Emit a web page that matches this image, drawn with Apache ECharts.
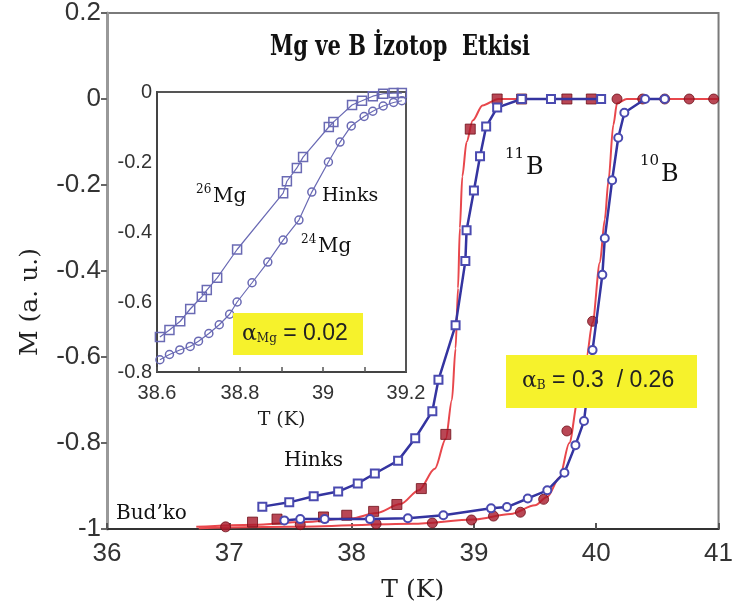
<!DOCTYPE html>
<html><head><meta charset="utf-8">
<script src="https://cdn.jsdelivr.net/npm/echarts@6/dist/echarts.min.js"></script>
<style>html,body{margin:0;padding:0;background:#fff}#c{width:736px;height:615px}</style>
</head><body><div id="c"></div>
<script>
// ---- tick values ----
const mainXTicks = [36, 37, 38, 39, 40, 41];
const mainYTicks = [-1, -0.8, -0.6, -0.4, -0.2, 0, 0.2];
const insetXTicks = [38.6, 38.8, 39, 39.2];
const insetYTicks = [-0.8, -0.6, -0.4, -0.2, 0];

// ---- main panel: 11B (Hinks, open squares) ----
const b11Hinks = [[37.27,-0.948],[37.49,-0.938],[37.69,-0.924],[37.89,-0.913],[38.05,-0.894],[38.19,-0.871],[38.38,-0.841],[38.52,-0.789],[38.66,-0.726],[38.71,-0.653],[38.85,-0.526],[38.93,-0.377],[38.94,-0.305],[39.0,-0.213],[39.05,-0.133],[39.10,-0.064],[39.19,-0.02],[39.39,0],[39.63,0],[40.04,0]];
// ---- main panel: 10B (Hinks, open circles) ----
const b10Hinks = [[37.45,-0.98],[37.58,-0.977],[37.78,-0.977],[38.15,-0.977],[38.46,-0.975],[38.75,-0.968],[39.14,-0.952],[39.27,-0.949],[39.44,-0.929],[39.60,-0.910],[39.74,-0.869],[39.83,-0.805],[39.90,-0.749],[39.97,-0.584],[40.05,-0.409],[40.07,-0.324],[40.13,-0.189],[40.18,-0.09],[40.23,-0.032],[40.40,0],[40.56,0]];
// ---- main panel: 11B Bud'ko (filled squares) and fit ----
const b11Budko = [[37.19,-0.984],[37.39,-0.977],[37.77,-0.972],[37.96,-0.968],[38.18,-0.959],[38.37,-0.943],[38.57,-0.906],[38.77,-0.78],[38.97,-0.07],[39.19,0],[39.39,0],[39.76,0],[39.96,0]];
const b11BudkoFit = [[36.73,-0.995],[37.2,-0.99],[37.6,-0.984],[38.0,-0.975],[38.2,-0.963],[38.4,-0.942],[38.55,-0.91],[38.68,-0.86],[38.77,-0.79],[38.82,-0.7],[38.85,-0.58],[38.87,-0.44],[38.885,-0.3],[38.905,-0.18],[38.94,-0.1],[38.99,-0.05],[39.07,-0.015],[39.2,0],[40.0,0]];
// ---- main panel: 10B Bud'ko (filled circles) and fit ----
const b10Budko = [[36.97,-0.995],[37.58,-0.99],[38.2,-0.988],[38.66,-0.986],[38.98,-0.979],[39.16,-0.97],[39.38,-0.961],[39.57,-0.931],[39.76,-0.772],[39.97,-0.517],[40.17,0],[40.38,0],[40.56,0],[40.76,0],[40.96,0]];
const b10BudkoFit = [[36.75,-0.998],[37.5,-0.995],[38.5,-0.988],[39.0,-0.978],[39.3,-0.965],[39.5,-0.945],[39.6,-0.925],[39.7,-0.88],[39.78,-0.8],[39.85,-0.7],[39.92,-0.6],[39.97,-0.52],[40.03,-0.38],[40.07,-0.28],[40.1,-0.19],[40.14,-0.06],[40.17,-0.01],[40.25,0],[41,0]];
// ---- inset: Mg isotopes ----
const mg26 = [[38.607,-0.70],[38.63,-0.68],[38.656,-0.655],[38.68,-0.62],[38.708,-0.585],[38.72,-0.566],[38.745,-0.531],[38.793,-0.45],[38.904,-0.289],[38.913,-0.255],[38.937,-0.217],[38.952,-0.186],[39.014,-0.1],[39.025,-0.086],[39.07,-0.037],[39.094,-0.025],[39.12,-0.012],[39.145,-0.005],[39.17,-0.003],[39.19,-0.003]];
const mg24 = [[38.607,-0.765],[38.63,-0.75],[38.655,-0.737],[38.68,-0.727],[38.70,-0.712],[38.725,-0.69],[38.75,-0.665],[38.775,-0.635],[38.793,-0.6],[38.829,-0.545],[38.867,-0.486],[38.904,-0.423],[38.942,-0.366],[38.973,-0.286],[39.013,-0.2],[39.041,-0.143],[39.068,-0.097],[39.099,-0.07],[39.12,-0.055],[39.145,-0.04],[39.17,-0.03],[39.19,-0.025]];

const BLUE = '#3434a0', RED = '#e8474c', DRED = '#a8192a', IBLUE = '#6a6ab4';
const SANS = 'Liberation Sans', SERIF = 'DejaVu Serif';
const fmt = v => String(Math.round(v * 10) / 10);

const chart = echarts.init(document.getElementById('c'), null, {renderer: 'canvas'});
chart.setOption({
  animation: false,
  backgroundColor: '#fff',
  grid: [
    {left: 107, top: 7, width: 620, height: 522, show: true, borderColor: '#7a7a7a', borderWidth: 2, backgroundColor: 'transparent'},
    {left: 157, top: 92, width: 249, height: 280, show: true, borderColor: '#555', borderWidth: 2, backgroundColor: '#fff', z: 3}
  ],
  xAxis: [
    {gridIndex: 0, type: 'value', min: mainXTicks[0], max: mainXTicks[mainXTicks.length - 1], interval: 1,
     name: 'T (K)', nameLocation: 'middle', nameGap: 49, nameTextStyle: {fontFamily: SERIF, fontSize: 25, color: '#222'},
     axisLine: {onZero: false, lineStyle: {color: '#333', width: 2}}, axisTick: {inside: true, length: 6, lineStyle: {color: '#555', width: 2}},
     axisLabel: {fontFamily: SANS, fontSize: 26, color: '#333', margin: 12}, splitLine: {show: false}},
    {gridIndex: 1, type: 'value', min: insetXTicks[0], max: insetXTicks[insetXTicks.length - 1], interval: 0.1,
     name: 'T (K)', nameLocation: 'middle', nameGap: 39, nameTextStyle: {fontFamily: SERIF, fontSize: 19, color: '#222'},
     axisLine: {onZero: false, lineStyle: {color: '#444', width: 2}}, axisTick: {inside: true, length: 5, lineStyle: {color: '#555', width: 1.5}},
     axisLabel: {fontFamily: SANS, fontSize: 20, color: '#333', margin: 11, showMinLabel: true, showMaxLabel: true,
       formatter: v => { const k = Math.round(v * 10); return k % 2 === 0 ? fmt(v) : ''; }},
     splitLine: {show: false}, z: 4}
  ],
  yAxis: [
    {gridIndex: 0, type: 'value', min: mainYTicks[0], max: mainYTicks[mainYTicks.length - 1], interval: 0.2,
     axisLine: {onZero: false, lineStyle: {color: '#999', width: 3}}, axisTick: {inside: false, length: 6, lineStyle: {color: '#666', width: 2}},
     axisLabel: {fontFamily: SANS, fontSize: 26, color: '#333', margin: 6, formatter: fmt}, splitLine: {show: false}},
    {gridIndex: 1, type: 'value', min: insetYTicks[0], max: insetYTicks[insetYTicks.length - 1], interval: 0.2,
     axisLine: {onZero: false, lineStyle: {color: '#444', width: 2}}, axisTick: {show: false},
     axisLabel: {fontFamily: SANS, fontSize: 20, color: '#333', margin: 5, formatter: fmt}, splitLine: {show: false}, z: 4}
  ],
  series: [
    {name: '11B Budko fit', type: 'line', xAxisIndex: 0, yAxisIndex: 0, data: b11BudkoFit, showSymbol: false, smooth: 0.3, smoothMonotone: 'x',
     lineStyle: {color: RED, width: 2}, z: 2},
    {name: '10B Budko fit', type: 'line', xAxisIndex: 0, yAxisIndex: 0, data: b10BudkoFit, showSymbol: false, smooth: 0.3, smoothMonotone: 'x',
     lineStyle: {color: RED, width: 2}, z: 2},
    {name: '10B Budko', type: 'scatter', xAxisIndex: 0, yAxisIndex: 0, data: b10Budko, symbol: 'circle', symbolSize: 10,
     itemStyle: {color: DRED, borderColor: '#6e0f19', borderWidth: 1}, z: 3},
    {name: '11B Budko', type: 'scatter', xAxisIndex: 0, yAxisIndex: 0, data: b11Budko, symbol: 'rect', symbolSize: 10,
     itemStyle: {color: DRED, borderColor: '#6e0f19', borderWidth: 1}, z: 3},
    {name: '10B Hinks', type: 'line', xAxisIndex: 0, yAxisIndex: 0, data: b10Hinks, symbol: 'circle', symbolSize: 8, showAllSymbol: true,
     lineStyle: {color: BLUE, width: 2.5}, itemStyle: {color: '#fff', borderColor: '#4a4ab0', borderWidth: 2}, z: 4},
    {name: '11B Hinks', type: 'line', xAxisIndex: 0, yAxisIndex: 0, data: b11Hinks, symbol: 'rect', symbolSize: 8, showAllSymbol: true,
     lineStyle: {color: BLUE, width: 2.5}, itemStyle: {color: '#fff', borderColor: '#4a4ab0', borderWidth: 2}, z: 4},
    {name: '26Mg', type: 'line', xAxisIndex: 1, yAxisIndex: 1, data: mg26, symbol: 'rect', symbolSize: 9, showAllSymbol: true,
     lineStyle: {color: IBLUE, width: 1.2}, itemStyle: {color: 'rgba(255,255,255,0)', borderColor: IBLUE, borderWidth: 1.5}, z: 5},
    {name: '24Mg', type: 'line', xAxisIndex: 1, yAxisIndex: 1, data: mg24, symbol: 'circle', symbolSize: 8, showAllSymbol: true,
     lineStyle: {color: IBLUE, width: 1.2}, itemStyle: {color: 'rgba(255,255,255,0)', borderColor: IBLUE, borderWidth: 1.5}, z: 5}
  ],
  graphic: [
    {type: 'text', x: 400, y: 48, scaleY: 1.3, style: {text: 'Mg ve B İzotop  Etkisi', align: 'center', verticalAlign: 'middle', font: 'bold 21px "DejaVu Serif"', fill: '#111'}, z: 10},
    {type: 'text', x: 30, y: 302, rotation: Math.PI / 2, style: {text: 'M (a. u.)', align: 'center', verticalAlign: 'middle', font: '25px "DejaVu Serif"', fill: '#222'}, z: 10},
    {type: 'text', x: 505, y: 147, style: {text: '11', font: '15px "DejaVu Serif"', fill: '#111'}, z: 10},
    {type: 'text', x: 526, y: 156, style: {text: 'B', font: '24px "DejaVu Serif"', fill: '#111'}, z: 10},
    {type: 'text', x: 640, y: 154, style: {text: '10', font: '15px "DejaVu Serif"', fill: '#111'}, z: 10},
    {type: 'text', x: 661, y: 163, style: {text: 'B', font: '24px "DejaVu Serif"', fill: '#111'}, z: 10},
    {type: 'text', x: 284, y: 451, style: {text: 'Hinks', font: '20px "DejaVu Serif"', fill: '#111'}, z: 10},
    {type: 'text', x: 116, y: 504, style: {text: 'Bud\u2019ko', font: '20px "DejaVu Serif"', fill: '#111'}, z: 10},
    {type: 'text', x: 196, y: 184, style: {text: '26', font: '12px "DejaVu Serif"', fill: '#111'}, z: 10},
    {type: 'text', x: 213, y: 187, style: {text: 'Mg', font: '20px "DejaVu Serif"', fill: '#111'}, z: 10},
    {type: 'text', x: 322, y: 187, style: {text: 'Hinks', font: '19px "DejaVu Serif"', fill: '#111'}, z: 10},
    {type: 'text', x: 301, y: 234, style: {text: '24', font: '12px "DejaVu Serif"', fill: '#111'}, z: 10},
    {type: 'text', x: 318, y: 237, style: {text: 'Mg', font: '20px "DejaVu Serif"', fill: '#111'}, z: 10},
    {type: 'rect', shape: {x: 233, y: 313, width: 130, height: 42}, style: {fill: '#f6f22c'}, z: 20},
    {type: 'text', x: 242, y: 334, style: {
      text: '{a|α}{s|Mg}{t| = 0.02}', verticalAlign: 'middle',
      rich: {a: {fontFamily: SERIF, fontSize: 22, fill: '#222'}, s: {fontFamily: SERIF, fontSize: 12, fill: '#222', padding: [10, 0, 0, 0]}, t: {fontFamily: SANS, fontSize: 23, fill: '#222'}}
    }, z: 21},
    {type: 'rect', shape: {x: 506, y: 355, width: 191, height: 53}, style: {fill: '#f6f22c'}, z: 20},
    {type: 'text', x: 522, y: 381, style: {
      text: '{a|α}{s|B}{t| = 0.3  / 0.26}', verticalAlign: 'middle',
      rich: {a: {fontFamily: SERIF, fontSize: 22, fill: '#222'}, s: {fontFamily: SERIF, fontSize: 12, fill: '#222', padding: [10, 0, 0, 0]}, t: {fontFamily: SANS, fontSize: 23, fill: '#222'}}
    }, z: 21}
  ]
});
</script></body></html>
